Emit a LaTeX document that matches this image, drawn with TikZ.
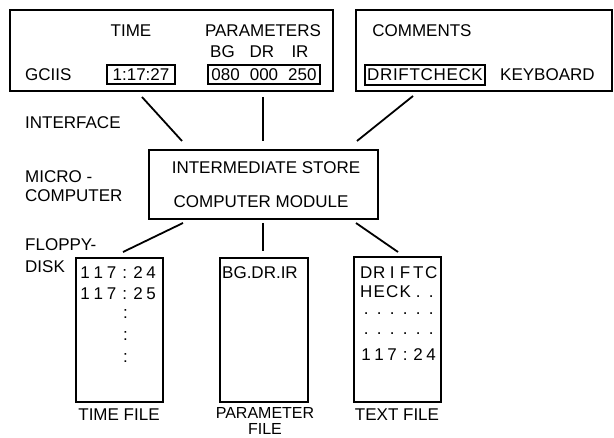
\documentclass[tikz,border=0pt]{standalone}
\usepackage{fontspec}
\setmainfont{Liberation Sans}
\newcommand{\tc}[1]{\makebox[13.2pt]{#1}}
\newcommand{\xc}[1]{\makebox[13pt]{#1}}
\begin{document}
\begin{tikzpicture}[x=1pt,y=-1pt,
  font=\fontsize{17}{20}\selectfont,
  lbl/.style={inner sep=0pt, anchor=center},
  lft/.style={inner sep=0pt, anchor=west},
  frame/.style={draw, line width=1.5pt, inner sep=0pt},
  smallbox/.style={draw, line width=1.2pt, inner sep=0pt, minimum height=19pt},
  conn/.style={line width=1.8pt}]
\useasboundingbox (0,0) rectangle (614,438);

% main frames
\node[frame, minimum width=323pt, minimum height=81pt] (panel1) at (171.5,50.5) {};
\node[frame, minimum width=256pt, minimum height=81pt] (panel2) at (484,50.5) {};
\node[frame, minimum width=229pt, minimum height=69pt] (store) at (263.5,184.5) {};
\node[frame, minimum width=87pt, minimum height=144pt] (timefile) at (119.5,330) {};
\node[frame, minimum width=88pt, minimum height=144pt] (parfile) at (264,330) {};
\node[frame, minimum width=87pt, minimum height=145pt] (textfile) at (397.5,329.5) {};

% panel 1 texts
\node[lbl] (ttime) at (131,31) {TIME};
\node[lbl] (tpar) at (263,31) {PARAMETERS};
\node[lbl] (tbg) at (222.5,52) {BG};
\node[lbl] (tdr) at (262,52) {DR};
\node[lbl] (tir) at (300,52) {IR};
\node[lft] (tgc) at (25,75) {GCIIS};
\node[smallbox, minimum width=68pt] (timebox) at (141,74.5) {1:17:27};
\node[smallbox, minimum width=112pt] (parbox) at (264,74.5) {080\hspace{10pt}000\hspace{10pt}250};

% panel 2 texts
\node[lbl] (tcom) at (422,31) {COMMENTS};
\node[smallbox, minimum width=120pt, minimum height=20pt] (driftbox) at (425,75) {\addfontfeature{LetterSpace=4}DRIFTCHECK};
\node[lft] (tkey) at (500,75) {KEYBOARD};

% side labels
\node[lft] (tint) at (25,123) {INTERFACE};
\node[lft] (tmic) at (25,177) {MICRO -};
\node[lft] (tcomp) at (25,196) {COMPUTER};
\node[lft] (tflop) at (25,245) {FLOPPY-};
\node[lft] (tdisk) at (25,267) {DISK};

% store texts
\node[lbl] (tinter) at (266,168) {INTERMEDIATE STORE};
\node[lbl] (tmod) at (261,202) {COMPUTER MODULE};

% time file contents
\node[lft] (tf1) at (78.4,273) {\tc{1}\tc{1}\tc{7}\tc{:}\tc{2}\tc{4}};
\node[lft] (tf2) at (78.4,294) {\tc{1}\tc{1}\tc{7}\tc{:}\tc{2}\tc{5}};
\node[lbl] (tfd1) at (125.5,314) {:};
\node[lbl] (tfd2) at (125.5,336) {:};
\node[lbl] (tfd3) at (125.5,358) {:};

% parameter file contents
\node[lft] (pf1) at (222,273) {BG.DR.IR};

% text file contents
\node[lft] (xf1) at (359.5,273) {\xc{D}\xc{R}\xc{I}\xc{F}\xc{T}\xc{C}};
\node[lft] (xf2) at (359.5,292) {\xc{H}\xc{E}\xc{C}\xc{K}\xc{.}\xc{.}};
\node[lft] (xf3) at (359.5,314) {\xc{.}\xc{.}\xc{.}\xc{.}\xc{.}\xc{.}};
\node[lft] (xf4) at (359.5,334) {\xc{.}\xc{.}\xc{.}\xc{.}\xc{.}\xc{.}};
\node[lft] (xf5) at (359.5,355) {\xc{1}\xc{1}\xc{7}\xc{:}\xc{2}\xc{4}};

% file labels
\node[lbl] (ltime) at (119,415) {TIME FILE};
\node[lbl, align=center, font=\fontsize{16}{16}\selectfont] (lpar) at (265,421) {PARAMETER\\FILE};
\node[lbl] (ltext) at (397,415) {TEXT FILE};

% connector end points
\coordinate (a1) at (142,97);  \coordinate (b1) at (182,141);
\coordinate (a2) at (263,97);  \coordinate (b2) at (263,141);
\coordinate (a3) at (413,96);  \coordinate (b3) at (357,141);
\coordinate (a4) at (183,223); \coordinate (b4) at (123,252);
\coordinate (a5) at (263,223); \coordinate (b5) at (263,251);
\coordinate (a6) at (356,223); \coordinate (b6) at (398,252);

\draw[conn] (a1) -- (b1);
\draw[conn] (a2) -- (b2);
\draw[conn] (a3) -- (b3);
\draw[conn] (a4) -- (b4);
\draw[conn] (a5) -- (b5);
\draw[conn] (a6) -- (b6);
\end{tikzpicture}
\end{document}
